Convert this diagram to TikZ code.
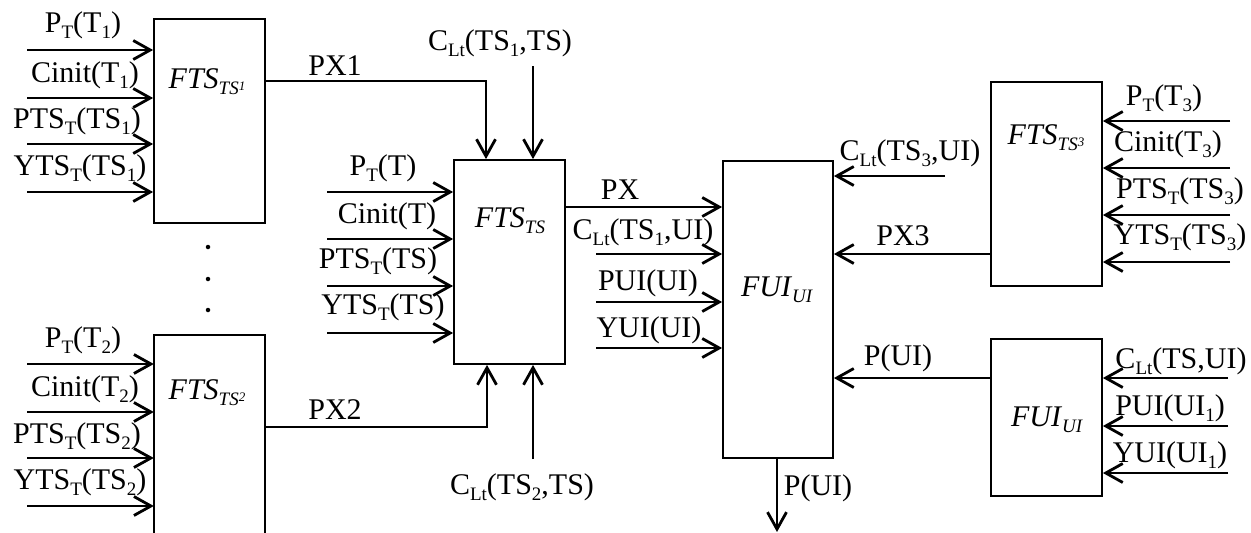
\documentclass[tikz,border=0pt]{standalone}
\usepackage{fontspec}
\setmainfont{Liberation Serif}
\usetikzlibrary{arrows.meta}
\newcommand\lw[1]{\raisebox{-0.2em}{\fontsize{19}{20}\selectfont #1}}
\newcommand\tny[1]{\raisebox{4pt}{\fontsize{13}{14}\selectfont\textit{#1}}}
\begin{document}
\begin{tikzpicture}[x=1pt,y=-1pt,
  box/.style={draw,line width=1.8pt,inner sep=0pt,minimum width=111pt},
  openbox/.style={inner sep=0pt,minimum width=111pt},
  lbl/.style={inner sep=0pt,font=\fontsize{30}{36}\selectfont},
  arr/.style={line width=2.8pt,-{Straight Barb[length=17pt,width=19pt,line width=2.8pt]}},
  dotc/.style={circle,fill,inner sep=0pt,minimum size=4.5pt}]
\useasboundingbox (0,0) rectangle (1251,533);
% boxes
\node[box,minimum height=204pt] (ts1) at (209.5,121) {};
\node[openbox,minimum height=204pt] (ts2) at (209.5,437) {};
\draw[line width=1.8pt] (ts2.south west) -- (ts2.north west) -- (ts2.north east) -- (ts2.south east);
\node[box,minimum height=204pt] (ts) at (509.5,262) {};
\node[box,minimum width=110pt,minimum height=297pt] (fui) at (778,309.5) {};
\node[box,minimum height=204pt] (ts3) at (1046.5,184) {};
\node[box,minimum height=157pt] (fui2) at (1046.5,417.5) {};
% titles
\node[lbl] (t1) at (207,82) {\textit{FTS}\lw{\textit{TS}\tny{1}}};
\node[lbl] (t2) at (207,393) {\textit{FTS}\lw{\textit{TS}\tny{2}}};
\node[lbl] (t0) at (510,221) {\textit{FTS}\lw{\textit{TS}}};
\node[lbl] (tf) at (777,290) {\textit{FUI}\lw{\textit{UI}}};
\node[lbl] (t3) at (1046,138) {\textit{FTS}\lw{\textit{TS}\tny{3}}};
\node[lbl] (tf2) at (1047,420) {\textit{FUI}\lw{\textit{UI}}};
% dots
\node[dotc] (d1) at (208,247) {};
\node[dotc] (d2) at (208,279) {};
\node[dotc] (d3) at (208,310) {};
% inputs ts1, ts2
\foreach \y/\n in {50/a,98/b,144/c,192/d}{
  \coordinate (i1\n) at (27,\y);
  \draw[arr] (i1\n) -- (ts1.west |- i1\n);
  \coordinate (i2\n) at (27,\y+314);
  \draw[arr] (i2\n) -- (ts2.west |- i2\n);
}
\node[lbl] (l1a) at (83,25) {P\lw{T}(T\lw{1})};
\node[lbl] (l1b) at (85,75) {Cinit(T\lw{1})};
\node[lbl] (l1c) at (77,121) {PTS\lw{T}(TS\lw{1})};
\node[lbl] (l1d) at (80,168) {YTS\lw{T}(TS\lw{1})};
\node[lbl] (l2a) at (83,340) {P\lw{T}(T\lw{2})};
\node[lbl] (l2b) at (85,389) {Cinit(T\lw{2})};
\node[lbl] (l2c) at (77,436) {PTS\lw{T}(TS\lw{2})};
\node[lbl] (l2d) at (80,482) {YTS\lw{T}(TS\lw{2})};
% inputs ts
\foreach \y/\n in {192/a,239/b,286/c,333/d}{
  \coordinate (i0\n) at (327,\y);
  \draw[arr] (i0\n) -- (ts.west |- i0\n);
}
\node[lbl] (l0a) at (383,168) {P\lw{T}(T)};
\node[lbl] (l0b) at (387,216) {Cinit(T)};
\node[lbl] (l0c) at (378,261) {PTS\lw{T}(TS)};
\node[lbl] (l0d) at (383,307) {YTS\lw{T}(TS)};
% PX1, PX2
\coordinate (px1c) at (486,81);
\draw[arr] (ts1.east |- px1c) -- (px1c) -- (px1c |- ts.north);
\node[lbl] (lpx1) at (335,66) {PX1};
\coordinate (px2c) at (487,427);
\draw[arr] (ts2.east |- px2c) -- (px2c) -- (px2c |- ts.south);
\node[lbl] (lpx2) at (335,410) {PX2};
\coordinate (c1) at (533,66);
\draw[arr] (c1) -- (c1 |- ts.north);
\node[lbl] (lc1) at (500,43) {C\lw{Lt}(TS\lw{1},TS)};
\coordinate (c2) at (533,459);
\draw[arr] (c2) -- (c2 |- ts.south);
\node[lbl] (lc2) at (522,487) {C\lw{Lt}(TS\lw{2},TS)};
% into FUI left
\coordinate (pxc) at (600,207);
\draw[arr] (ts.east |- pxc) -- (fui.west |- pxc);
\node[lbl] (lpx) at (620,190) {PX};
\foreach \y/\n in {254/a,302/b,348/c}{
  \coordinate (iu\n) at (596,\y);
  \draw[arr] (iu\n) -- (fui.west |- iu\n);
}
\node[lbl] (lua) at (643,232) {C\lw{Lt}(TS\lw{1},UI)};
\node[lbl] (lub) at (648,283) {PUI(UI)};
\node[lbl] (luc) at (649,330) {YUI(UI)};
% output
\coordinate (po) at (777,532);
\draw[arr] (fui.south -| po) -- (po);
\node[lbl] (lpo) at (818,488) {P(UI)};
% into FUI right
\coordinate (c3) at (945,176);
\draw[arr] (c3) -- (fui.east |- c3);
\node[lbl] (lc3) at (910,153) {C\lw{Lt}(TS\lw{3},UI)};
\coordinate (px3c) at (950,254);
\draw[arr] (ts3.west |- px3c) -- (fui.east |- px3c);
\node[lbl] (lpx3) at (903,236) {PX3};
\coordinate (puc) at (950,378);
\draw[arr] (fui2.west |- puc) -- (fui.east |- puc);
\node[lbl] (lpu) at (898,358) {P(UI)};
% ts3 inputs
\foreach \y/\n in {121/a,168/b,215/c,262/d}{
  \coordinate (i3\n) at (1230,\y);
  \draw[arr] (i3\n) -- (ts3.east |- i3\n);
}
\node[lbl] (l3a) at (1164,98) {P\lw{T}(T\lw{3})};
\node[lbl] (l3b) at (1168,144) {Cinit(T\lw{3})};
\node[lbl] (l3c) at (1180,191) {PTS\lw{T}(TS\lw{3})};
\node[lbl] (l3d) at (1180,237) {YTS\lw{T}(TS\lw{3})};
% fui2 inputs
\foreach \y/\n in {378/a,426/b,473/c}{
  \coordinate (i4\n) at (1228,\y);
  \draw[arr] (i4\n) -- (fui2.east |- i4\n);
}
\node[lbl] (l4a) at (1181,361) {C\lw{Lt}(TS,UI)};
\node[lbl] (l4b) at (1170,408) {PUI(UI\lw{1})};
\node[lbl] (l4c) at (1170,455) {YUI(UI\lw{1})};
\end{tikzpicture}
\end{document}
